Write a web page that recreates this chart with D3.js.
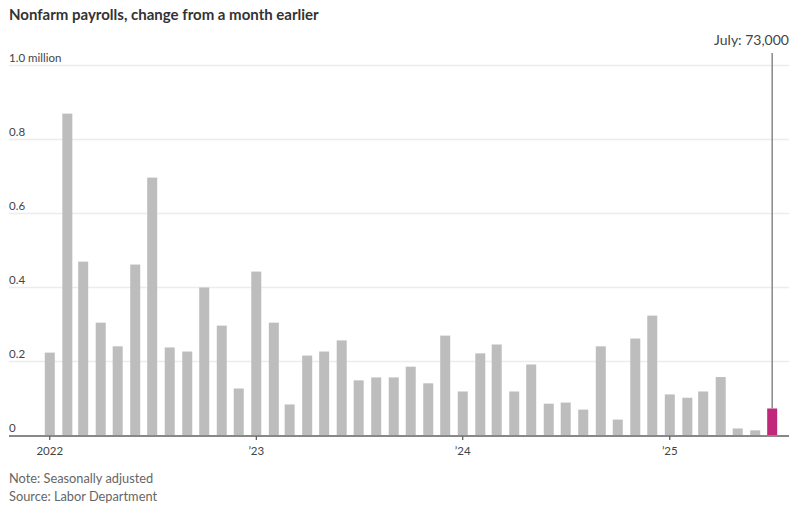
<!DOCTYPE html>
<html><head><meta charset="utf-8">
<script src="https://cdn.jsdelivr.net/npm/d3@7"></script>
<style>
body{margin:0;background:#fff;}
svg text{font-family:"Lato","Open Sans",sans-serif;}
</style></head>
<body><svg id="c" width="798" height="512"></svg>
<script>
const months = ["2022-01","2022-02","2022-03","2022-04","2022-05","2022-06","2022-07","2022-08","2022-09","2022-10","2022-11","2022-12",
"2023-01","2023-02","2023-03","2023-04","2023-05","2023-06","2023-07","2023-08","2023-09","2023-10","2023-11","2023-12",
"2024-01","2024-02","2024-03","2024-04","2024-05","2024-06","2024-07","2024-08","2024-09","2024-10","2024-11","2024-12",
"2025-01","2025-02","2025-03","2025-04","2025-05","2025-06","2025-07"];
const values = [0.224,0.870,0.470,0.305,0.241,0.462,0.697,0.238,0.227,0.400,0.297,0.127,
0.443,0.305,0.084,0.216,0.227,0.257,0.149,0.157,0.157,0.186,0.141,0.270,
0.119,0.222,0.246,0.119,0.192,0.086,0.089,0.070,0.241,0.043,0.262,0.324,
0.111,0.102,0.119,0.158,0.019,0.014,0.073];
const yTicks = [0,0.2,0.4,0.6,0.8,1.0];
const yTickLabels = ["0","0.2","0.4","0.6","0.8","1.0 million"];
const xTicks = ["2022-01","2023-01","2024-01","2025-01"];
const xTickLabels = ["2022","\u201923","\u201924","\u201925"];
const title = "Nonfarm payrolls, change from a month earlier";
const annotation = "July: 73,000";
const notes = ["Note: Seasonally adjusted","Source: Labor Department"];

const parse = d3.utcParse("%Y-%m");
const data = months.map((m,i)=>({date:parse(m),value:values[i]}));
const svg = d3.select("#c");
const left=9,right=789;
const x = d3.scaleUtc().domain([parse("2022-01"),parse("2025-01")]).range([49.8,669.8]);
const y = d3.scaleLinear().domain([0,1]).range([435.5,65.5]);
const bw = 10;

svg.append("text").attr("x",9).attr("y",20).attr("font-size",15).attr("font-weight",700).attr("fill","#333").text(title);

// grid
const g = svg.append("g");
yTicks.forEach((t,i)=>{
  if(t>0) g.append("line").attr("x1",left).attr("x2",right).attr("y1",y(t)).attr("y2",y(t)).attr("stroke","#ececec").attr("stroke-width",1.5);
  g.append("text").attr("x",9).attr("y",y(t)-3.5).attr("font-size",11.5).attr("fill","#444").text(yTickLabels[i]);
});

// bars
const last = data.length-1;
svg.append("g").selectAll("rect").data(data).join("rect")
  .attr("x",d=>x(d.date)-bw/2).attr("width",bw)
  .attr("y",d=>y(d.value)).attr("height",d=>y(0)-y(d.value))
  .attr("fill",(d,i)=>i===last?"#c1277b":"#bdbdbd");

// annotation line
const ld = data[last];
svg.append("line").attr("x1",x(ld.date)).attr("x2",x(ld.date)).attr("y1",53).attr("y2",y(ld.value))
  .attr("stroke","#888").attr("stroke-width",1.5);
svg.append("text").attr("x",789).attr("y",45).attr("text-anchor","end").attr("font-size",14).attr("fill","#444").text(annotation);

// baseline
svg.append("line").attr("x1",left).attr("x2",right).attr("y1",y(0)+0.5).attr("y2",y(0)+0.5).attr("stroke","#888").attr("stroke-width",2);

// x ticks
const xg = svg.append("g");
xTicks.forEach((t,i)=>{
  const xx = x(parse(t));
  xg.append("line").attr("x1",xx).attr("x2",xx).attr("y1",y(0)+1).attr("y2",440).attr("stroke","#333").attr("stroke-width",1);
  xg.append("text").attr("x",xx).attr("y",455).attr("text-anchor","middle").attr("font-size",11.5).attr("fill","#444").text(xTickLabels[i]);
});

notes.forEach((n,i)=>{
  svg.append("text").attr("x",9).attr("y",482.5+i*18).attr("font-size",12.8).attr("fill","#666").text(n);
});
</script></body></html>
